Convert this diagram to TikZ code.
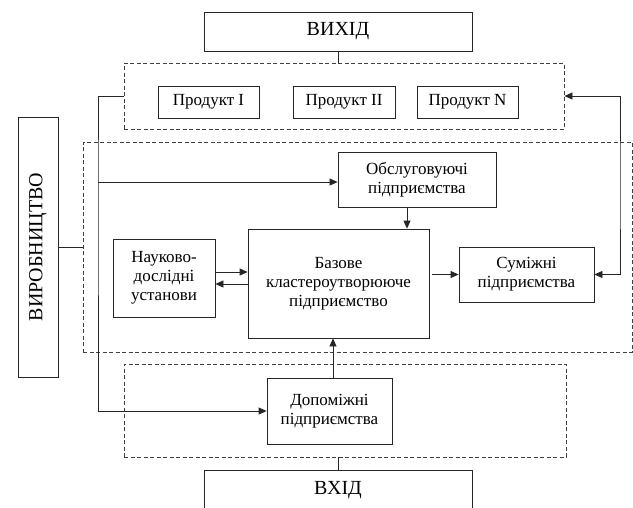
\documentclass[tikz,border=0pt]{standalone}
\usepackage{fontspec}
\setmainfont{Liberation Serif}
\usetikzlibrary{arrows.meta}
\begin{document}
\begin{tikzpicture}[x=1pt,y=-1pt,
  box/.style={draw=black!85,line width=0.8pt,fill=white,inner sep=0pt,align=center,
    font=\fontsize{17}{19}\selectfont},
  bigbox/.style={box,font=\fontsize{20}{24}\selectfont},
  dbox/.style={draw=black!75,line width=0.9pt,dash pattern=on 4pt off 2.5pt,inner sep=0pt},
  arr/.style={draw=black!85,line width=0.8pt,-{Triangle[length=8pt,width=7pt]}},
  ln/.style={draw=black!85,line width=0.8pt}]
\clip (0,0) rectangle (633,507);
\fill[white] (0,0) rectangle (633,507);
% dashed groups
\node[dbox,minimum width=440,minimum height=66] (topdash) at (344,96) {};
\node[dbox,minimum width=549,minimum height=210] (bigdash) at (357.5,247) {};
\node[dbox,minimum width=442,minimum height=93] (botdash) at (345,410.5) {};
% boxes
\node[bigbox,minimum width=268,minimum height=39] (vyhid) at (338,31.5) {ВИХІД};
\node[box,minimum width=101,minimum height=32] (p1) at (208.5,102) {Продукт I};
\node[box,minimum width=102,minimum height=32] (p2) at (344,102) {Продукт II};
\node[box,minimum width=101,minimum height=32] (pN) at (467.5,102) {Продукт N};
\node[box,minimum width=40,minimum height=260] (vyr) at (38,247) {};
\node[rotate=90,inner sep=0pt,font=\fontsize{20}{24}\selectfont] (vyrtext) at (vyr.center) {ВИРОБНИЦТВО};
\node[box,minimum width=158,minimum height=55] (obsl) at (417,179.5) {Обслуговуючі\\підприємства};
\node[box,minimum width=181,minimum height=109] (base) at (338.5,283.5) {Базове\\кластероутворююче\\підприємство};
\node[box,minimum width=102,minimum height=78] (nauk) at (164,278) {Науково-\\дослідні\\установи};
\node[box,minimum width=135,minimum height=55] (sum) at (526.5,274.5) {Суміжні\\підприємства};
\node[box,minimum width=125,minimum height=66] (dop) at (329.5,411) {Допоміжні\\підприємства};
\node[bigbox,minimum width=268,minimum height=40] (vhid) at (338,490) {ВХІД};
% helper coordinates
\coordinate (lx) at (98,182);
\coordinate (rx) at (620,185);
\coordinate (xa) at (407,0);
\coordinate (xb) at (333,0);
% connectors
\draw[ln] (vyhid.south) -- (vyhid.south |- topdash.north);
\draw[ln] (vhid.north) -- (vhid.north |- botdash.south);
\draw[ln] (vyr.east) -- (vyr.east -| bigdash.west);
\draw[arr] (topdash.west) -| (lx) |- (dop.west);
\draw[arr] (lx) -- (lx -| obsl.west);
\draw[arr,{Triangle[length=8pt,width=7pt]}-{Triangle[length=8pt,width=7pt]}] (topdash.east) -| (rx) |- (sum.east);
\draw[arr] (obsl.south -| xa) -- (base.north -| xa);
\draw[arr] (dop.north -| xb) -- (base.south -| xb);
\draw[arr] ([yshift=6pt]nauk.east) -- ([yshift=6pt]nauk.east -| base.west);
\draw[arr] ([yshift=-6pt]nauk.east -| base.west) -- ([yshift=-6pt]nauk.east);
\draw[arr] ([xshift=3pt]base.east |- sum.west) -- (sum.west);
\end{tikzpicture}
\end{document}
